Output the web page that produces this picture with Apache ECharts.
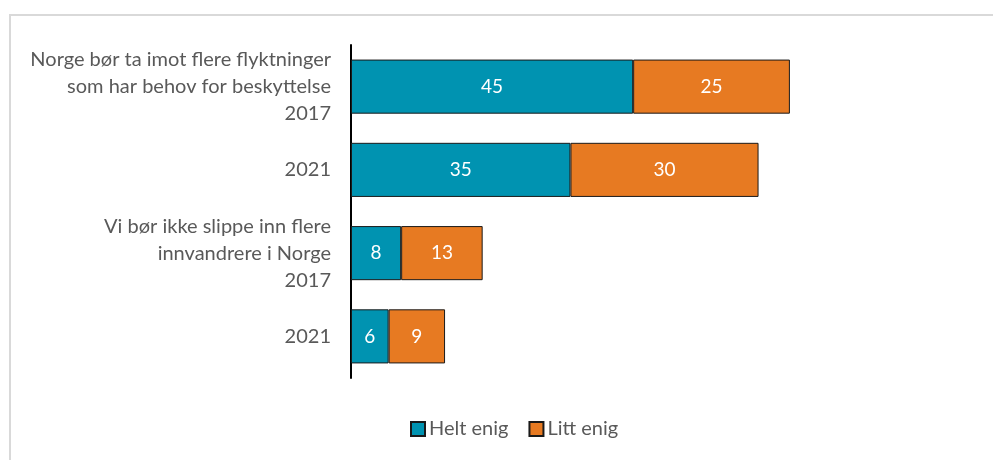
<!DOCTYPE html>
<html>
<head>
    <meta charset="utf-8">
    <title>Holdninger til flyktninger og innvandrere</title>
    <script src="https://cdn.jsdelivr.net/npm/echarts@6/dist/echarts.min.js"></script>
    <style type="text/css">
        html, body { margin: 0; padding: 0; background: #fff; }
        #main { width: 993px; height: 460px; }
    </style>
</head>
<body>
    <div id="main"></div>
    <script type="text/javascript">
        var categories = [
            'Norge bør ta imot flere flyktninger\nsom har behov for beskyttelse\n2017',
            '2021',
            'Vi bør ikke slippe inn flere\ninnvandrere i Norge\n2017',
            '2021'
        ];
        var heltEnig = [45, 35, 8, 6];
        var littEnig = [25, 30, 13, 9];
        var seriesNames = ['Helt enig', 'Litt enig'];

        var fontFam = 'Lato, "Noto Sans", sans-serif';
        var chart = echarts.init(document.getElementById('main'));

        var option = {
            backgroundColor: '#ffffff',
            animation: false,
            textStyle: { fontFamily: fontFam },
            graphic: [{
                type: 'rect',
                shape: { x: 10, y: 15, width: 1000, height: 500 },
                style: { fill: 'none', stroke: '#d9d9d9', lineWidth: 2 },
                silent: true
            }],
            legend: {
                data: seriesNames,
                bottom: 16,
                left: 405,
                itemWidth: 14,
                itemHeight: 14,
                itemGap: 20,
                icon: 'rect',
                textStyle: { color: '#595959', fontSize: 20, fontFamily: fontFam, padding: [0, 0, 0, -1] }
            },
            grid: {
                left: 351,
                right: 15,
                top: 45,
                bottom: 82,
                containLabel: false
            },
            xAxis: {
                type: 'value',
                min: 0,
                max: 100,
                show: false
            },
            yAxis: {
                type: 'category',
                data: categories,
                inverse: true,
                axisLine: { show: true, lineStyle: { color: '#000000', width: 2 } },
                axisTick: { show: false },
                axisLabel: {
                    color: '#595959',
                    fontSize: 20,
                    lineHeight: 27,
                    margin: 20,
                    align: 'right',
                    fontFamily: fontFam
                }
            },
            series: [{
                name: seriesNames[0],
                type: 'bar',
                stack: 'total',
                data: heltEnig,
                barCategoryGap: '35%',
                itemStyle: { color: '#0093b1', borderColor: '#1a1a1a', borderWidth: 1 },
                label: { show: true, position: 'inside', color: '#ffffff', fontSize: 19, fontFamily: fontFam }
            }, {
                name: seriesNames[1],
                type: 'bar',
                stack: 'total',
                data: littEnig,
                barCategoryGap: '35%',
                itemStyle: { color: '#e77a22', borderColor: '#1a1a1a', borderWidth: 1 },
                label: { show: true, position: 'inside', color: '#ffffff', fontSize: 19, fontFamily: fontFam }
            }]
        };
        chart.setOption(option);
    </script>
</body>
</html>
